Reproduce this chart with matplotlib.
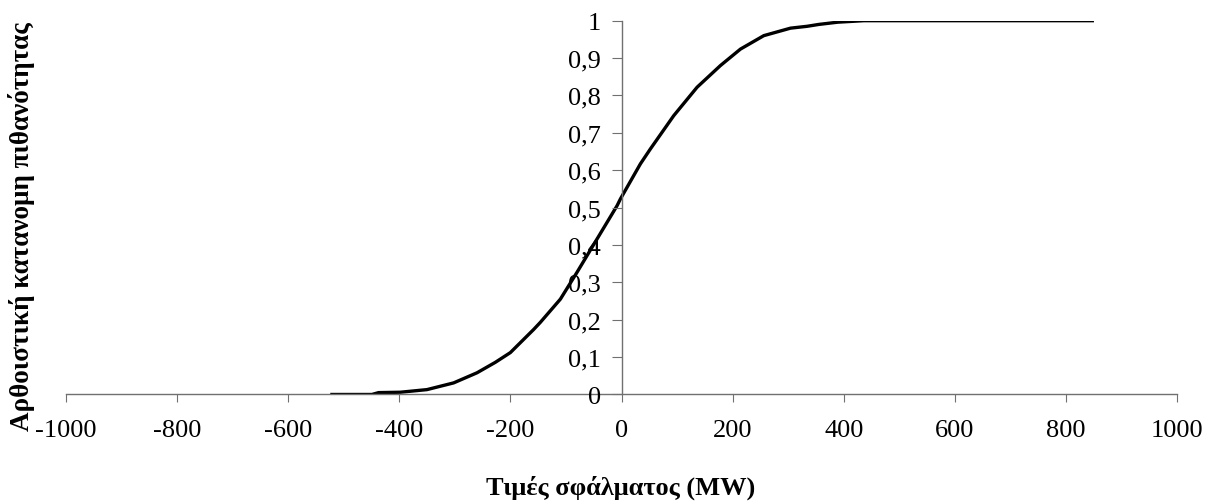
import matplotlib
matplotlib.use("Agg")
import matplotlib.pyplot as plt
from matplotlib.ticker import FuncFormatter

plt.rcParams['font.family'] = ['Liberation Serif', 'DejaVu Serif']
plt.rcParams['axes.unicode_minus'] = False

# error values (MW) and cumulative probability
error_mw = [-524, -449, -437, -398, -350, -302, -260, -227, -200, -158, -146,
            -110, -80, -44, -8, -2, 34, 52, 94, 136, 178, 214, 256, 304, 334,
            355, 389, 436, 850]
cum_prob = [0, 0, 0.005, 0.006, 0.013, 0.031, 0.058, 0.086, 0.112, 0.174, 0.193,
            0.255, 0.327, 0.416, 0.505, 0.523, 0.617, 0.657, 0.746, 0.822, 0.88,
            0.924, 0.96, 0.98, 0.985, 0.99, 0.996, 1, 1]

x_ticks = list(range(-1000, 1001, 200))
y_ticks = [i / 10 for i in range(11)]

fig = plt.figure(figsize=(12.14, 5.02), dpi=100)
ax = fig.add_axes([0.0541, 0.2122, 0.9157, 0.7446])

ax.plot(error_mw, cum_prob, color='black', linewidth=2.4,
        solid_joinstyle='round', solid_capstyle='butt')

ax.set_xlim(-1000, 1000)
ax.set_ylim(0, 1)
ax.spines['top'].set_visible(False)
ax.spines['right'].set_visible(False)
ax.spines['left'].set_position(('data', 0))
ax.spines['bottom'].set_position(('data', 0))
for s in ('left', 'bottom'):
    ax.spines[s].set_color('#707070')
    ax.spines[s].set_linewidth(1.0)

ax.set_xticks(x_ticks)
ax.set_yticks(y_ticks)
ax.yaxis.set_major_formatter(FuncFormatter(
    lambda v, p: '0' if v == 0 else ('1' if v == 1 else f'{v:.1f}'.replace('.', ','))))
ax.tick_params(axis='x', direction='out', length=6, color='#707070', labelsize=19, pad=12)
ax.tick_params(axis='y', direction='out', length=7, color='#707070', labelsize=19, pad=8)
ax.set_axisbelow(False)

fig.text(0.5115, 0.014, 'Τιμές σφάλματος (MW)', ha='center', va='baseline',
         fontsize=19, fontweight='bold')
fig.text(0.018, 0.548, 'Αρθοιστική κατανομη πιθανότητας', ha='center', va='center',
         rotation=90, fontsize=19.5, fontweight='bold')

fig.savefig('out.png', dpi=100)
